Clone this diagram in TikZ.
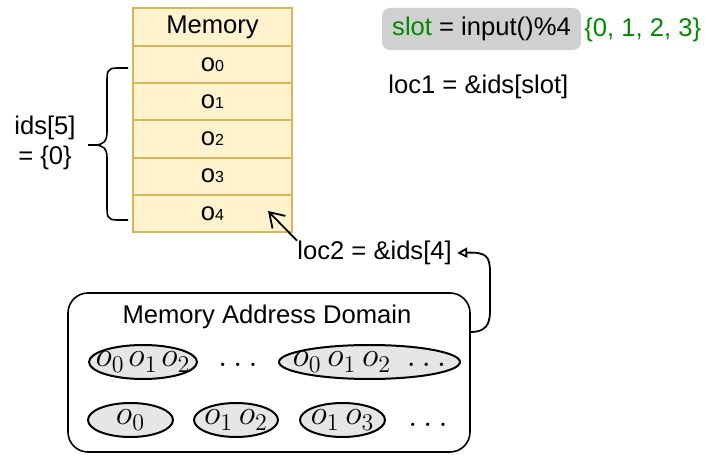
\documentclass[tikz,border=0pt]{standalone}
\usepackage[no-math]{fontspec}
\setmainfont{Liberation Sans}
\usetikzlibrary{shapes.geometric,arrows.meta}
\definecolor{memfill}{HTML}{FFF2CC}
\definecolor{memline}{HTML}{D6B656}
\definecolor{slotgray}{HTML}{D0D0D0}
\definecolor{slotgreen}{HTML}{008A00}
\definecolor{blobfill}{HTML}{E6E6E6}

\begin{document}
\begin{tikzpicture}[x=0.5pt,y=-0.5pt,font=\fontsize{12.8}{15}\selectfont,
  cell/.style={draw=memline,line width=1pt,fill=memfill,minimum width=79.5pt,minimum height=18.6pt,inner sep=0pt},
  blob/.style={ellipse,draw,line width=1pt,fill=blobfill,minimum height=17pt,inner sep=0pt},
  every label/.style={font=\fontsize{17.5}{20}\selectfont},
  >={Straight Barb[length=7pt,width=9pt]}]
\useasboundingbox (0,0) rectangle (709,455);
% memory table
\node[cell,minimum height=19pt] (mem) at (212.5,27) {Memory};
\foreach \i in {0,...,4}
  \node[cell] (o\i) at (212.5,{64.6+37.2*\i}) {o{\footnotesize\i}};
% brace
\coordinate (bracetip) at (88,145);
\draw[line width=0.8pt] (128,68) -- (117,68) .. controls (107,68) and (107,72) .. (107,82) -- (107,132)
  .. controls (107,142) and (103,145) .. (94,145) -- (bracetip);
\draw[line width=0.8pt] (bracetip) -- (94,145) .. controls (103,145) and (107,148) .. (107,158) -- (107,206)
  .. controls (107,216) and (107,220) .. (117,220) -- (128,220);
\node[align=center] (ids) at (45,143) {ids[5]\\= \{0\}};
% slot
\node[fill=slotgray,rounded corners=4pt,minimum width=99.5pt,minimum height=21pt,inner sep=0pt] (slot) at (481.5,29) {\textcolor{slotgreen}{slot} = input()\%4};
\node[anchor=west,text=slotgreen,inner sep=0pt] (range) at (584,30) {\{0, 1, 2, 3\}};
\node[anchor=west,inner sep=0pt] (loc1) at (388,87) {loc1 = \&ids[slot]};
% loc2
\node[anchor=west,inner sep=0pt] (loc2) at (297,253) {loc2 = \&ids[4]};
\coordinate (o4tip) at (268,211);
\draw[->,line width=0.9pt] (loc2.north west) -- (o4tip);
% domain
\node[draw,rounded corners=10pt,line width=0.8pt,minimum width=201pt,minimum height=79.5pt] (dom) at (269,372.5) {};
\node (domtitle) at (267,317) {Memory Address Domain};
\node[blob,minimum width=54pt,label=center:{$o_0\mkern2mu o_1\mkern2mu o_2$}] (s1) at (143,362) {};
\node[font=\fontsize{17.5}{20}\selectfont] (dots1) at (238,365) {$\dots$};
\node[blob,minimum width=90.5pt,label=center:{$o_0\,o_1\,o_2\;\dots$}] (s2) at (369.5,362) {};
\node[blob,minimum width=42.5pt,label=center:{$o_0$}] (s3) at (130.5,420) {};
\node[blob,minimum width=42pt,label=center:{$o_1\,o_2$}] (s4) at (236,420) {};
\node[blob,minimum width=42.5pt,label=center:{$o_1\,o_3$}] (s5) at (342.5,420) {};
\node[font=\fontsize{17.5}{20}\selectfont] (dots2) at (428,425) {$\dots$};
\coordinate (domout) at (470,332);
\draw[-{Triangle[open,length=5pt,width=5pt]},line width=0.9pt] (domout) .. controls (492,332) and (490,318) .. (490,300)
  -- (490,272) .. controls (490,256) and (486,252) .. ([xshift=2.5pt]loc2.east);
\end{tikzpicture}
\end{document}
